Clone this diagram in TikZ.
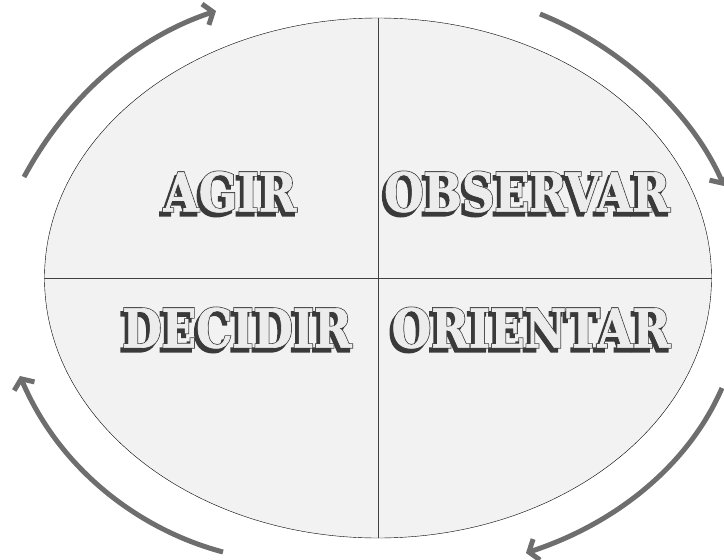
\documentclass[tikz,border=0pt]{standalone}
\usepackage{fontspec}
\usepackage{xcolor}
\usepackage{tikz}
\usetikzlibrary{shapes.geometric, arrows.meta, positioning, calc}
\newfontfamily\oodafont[FakeStretch=0.84, FakeBold=1.2]{DejaVu Serif Bold}
\newfontfamily\oodaheavy[FakeStretch=0.84, FakeBold=4]{DejaVu Serif Bold}
\definecolor{qshade}{RGB}{58, 58, 58}
\definecolor{qface}{RGB}{236, 236, 236}
\definecolor{qarrow}{RGB}{110, 110, 110}
\definecolor{qfill}{RGB}{242, 242, 242}
\newcommand{\shadecopy}[3]{\rlap{\hspace*{#1}\raisebox{#2}{\oodaheavy\textcolor{qshade}{#3}}}}
\newcommand{\oodalabel}[1]{%
  \shadecopy{-3pt}{-4pt}{#1}\shadecopy{0pt}{0pt}{#1}%
  \textcolor{qface}{#1}}

\begin{document}
\begin{tikzpicture}[
    x=1pt, y=-1pt,
    quadrant/.style={font=\oodafont\fontsize{54}{54}\selectfont, inner sep=0pt},
    cycle/.style={line width=5pt, qarrow, -{Straight Barb[length=8pt, width=22pt]}}
]
    \useasboundingbox (0,0) rectangle (724,560);

    % Ellipse
    \node[ellipse, draw, thin, fill=qfill, minimum width=667pt, minimum height=520pt,
          inner sep=0pt] (loop) at (378,278) {};
    \draw[black!75] (loop.north) -- (loop.south);
    \draw[black!75] (loop.west) -- (loop.east);

    % Quadrants
    \node[quadrant] (act) at (230,194) {\oodalabel{AGIR}};
    \node[quadrant] (observe) at (527,194) {\oodalabel{OBSERVAR}};
    \node[quadrant] (decide) at (237,330) {\oodalabel{DECIDIR}};
    \node[quadrant] (orient) at (531,330) {\oodalabel{ORIENTAR}};

    % Arrows
    \coordinate (a1) at (24,177);  \coordinate (b1) at (216,11);
    \coordinate (a2) at (540,14);  \coordinate (b2) at (724,186);
    \coordinate (a3) at (722,388); \coordinate (b3) at (526,553);
    \coordinate (a4) at (223,552); \coordinate (b4) at (20,376);
    \draw[cycle] (a1) .. controls (70,92) and (140,36) .. (b1);
    \draw[cycle] (a2) .. controls (620,46) and (692,112) .. (b2);
    \draw[cycle] (a3) .. controls (690,462) and (620,522) .. (b3);
    \draw[cycle] (a4) .. controls (140,530) and (60,470) .. (b4);
\end{tikzpicture}
\end{document}
